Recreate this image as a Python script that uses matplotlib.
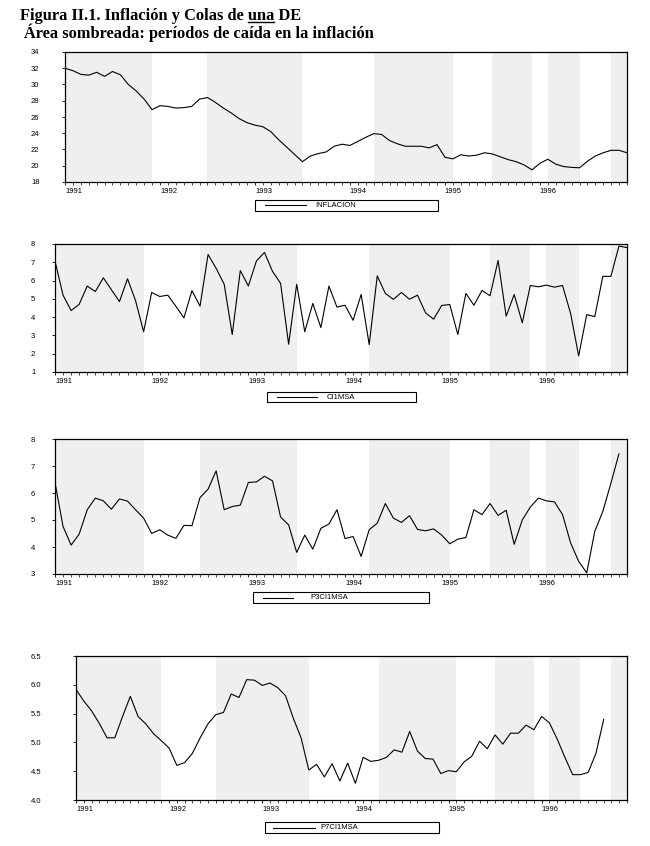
import matplotlib
matplotlib.use("Agg")
import numpy as np
from matplotlib import pyplot as plt
from matplotlib.patches import Rectangle
from matplotlib.lines import Line2D

W, H = 650, 846

# monthly data, 1991:01 .. 1996:12 (index 0 = Jan 1991)
years = [1991, 1992, 1993, 1994, 1995, 1996]

inflacion = [32.0, 31.7, 31.25, 31.15, 31.5, 31.0, 31.6, 31.2, 30.0, 29.2, 28.2, 26.9,
             27.4, 27.3, 27.1, 27.15, 27.3, 28.2, 28.4, 27.8, 27.1, 26.5, 25.8, 25.3,
             25.0, 24.8, 24.2, 23.2, 22.3, 21.4, 20.5, 21.2, 21.5, 21.7, 22.4, 22.65,
             22.5, 23.0, 23.5, 23.95, 23.85, 23.1, 22.7, 22.4, 22.4, 22.4, 22.2, 22.6,
             21.05, 20.85, 21.35, 21.2, 21.3, 21.6, 21.45, 21.1, 20.75, 20.5, 20.1, 19.5,
             20.3, 20.8, 20.2, 19.9, 19.8, 19.75, 20.55, 21.2, 21.6, 21.9, 21.9, 21.6]

ci1msa = [7.07, 5.2, 4.36, 4.7, 5.7, 5.4, 6.15, 5.5, 4.85, 6.1, 4.9, 3.2,
          5.35, 5.13, 5.2, 4.6, 3.96, 5.45, 4.6, 7.43, 6.67, 5.8, 3.05, 6.55,
          5.7, 7.07, 7.54, 6.5, 5.85, 2.52, 5.8, 3.2, 4.75, 3.43, 5.7, 4.55,
          4.65, 3.83, 5.24, 2.5, 6.26, 5.3, 4.97, 5.35, 4.98, 5.2, 4.23, 3.89,
          4.64, 4.69, 3.05, 5.3, 4.65, 5.46, 5.17, 7.1, 4.05, 5.24, 3.69, 5.73,
          5.66, 5.75, 5.64, 5.73, 4.2, 1.88, 4.14, 4.03, 6.23, 6.23, 7.89, 7.8]

p3ci1msa = [6.39, 4.76, 4.07, 4.48, 5.38, 5.81, 5.71, 5.4, 5.78, 5.7, 5.38, 5.07,
            4.5, 4.64, 4.44, 4.32, 4.8, 4.79, 5.83, 6.14, 6.82, 5.38, 5.5, 5.55,
            6.39, 6.41, 6.62, 6.45, 5.11, 4.82, 3.8, 4.44, 3.92, 4.69, 4.85, 5.38,
            4.31, 4.39, 3.65, 4.64, 4.88, 5.61, 5.07, 4.91, 5.16, 4.65, 4.6, 4.67,
            4.44, 4.12, 4.29, 4.35, 5.38, 5.2, 5.61, 5.17, 5.36, 4.1, 5.0, 5.48,
            5.81, 5.71, 5.67, 5.2, 4.15, 3.47, 3.04, 4.58, 5.32, 6.36, 7.45]

p7ci1msa = [5.92, 5.72, 5.55, 5.33, 5.08, 5.08, 5.45, 5.8, 5.45, 5.32, 5.15, 5.03,
            4.9, 4.6, 4.65, 4.81, 5.08, 5.32, 5.48, 5.52, 5.84, 5.78, 6.09, 6.08,
            5.99, 6.03, 5.95, 5.81, 5.42, 5.08, 4.52, 4.62, 4.4, 4.63, 4.33, 4.64,
            4.29, 4.74, 4.67, 4.69, 4.74, 4.87, 4.83, 5.19, 4.85, 4.72, 4.71, 4.46,
            4.51, 4.49, 4.66, 4.76, 5.02, 4.89, 5.13, 4.97, 5.16, 5.16, 5.3, 5.22,
            5.45, 5.34, 5.06, 4.74, 4.44, 4.44, 4.48, 4.81, 5.4]

# periods of falling inflation (start, end) as (year, month)
shade_periods = [((1991, 1), (1991, 12)), ((1992, 7), (1993, 7)), ((1994, 4), (1995, 2)),
                 ((1995, 7), (1995, 12)), ((1996, 2), (1996, 6)), ((1996, 10), (1996, 12))]


def midx(ym):
    return (ym[0] - 1991) * 12 + ym[1] - 1


fig = plt.figure(figsize=(W / 100, H / 100), dpi=100)
SANS = "Liberation Sans"
SERIF = "Liberation Serif"

# (values, name, axes rect px (l, t, r, b), ylim, yticks, fmt, legend box (l, t, r, b), line x0, x1, text x)
panels = [
    (inflacion, "INFLACION", (65, 52, 627, 182), (18, 34), np.arange(18, 35, 2), "{:.0f}",
     (255, 200, 438, 211), 265, 306, 315),
    (ci1msa, "CI1MSA", (55, 244, 627, 372), (1, 8), np.arange(1, 9, 1), "{:.0f}",
     (267, 392, 416, 402), 277, 317, 327),
    (p3ci1msa, "P3CI1MSA", (55, 439, 627, 574), (3, 8), np.arange(3, 9, 1), "{:.0f}",
     (253, 592, 429, 603), 263, 293, 310),
    (p7ci1msa, "P7CI1MSA", (76, 656, 627, 800), (4.0, 6.5), np.arange(4.0, 6.51, 0.5), "{:.1f}",
     (265, 822, 439, 833), 273, 315, 320),
]

label_left = 31

for vals, name, (l, t, r, b), ylim, yt, fmt, lbox, lx0, lx1, tx in panels:
    ax = fig.add_axes([l / W, 1 - b / H, (r - l) / W, (b - t) / H])
    ax.set_xlim(0, 71)
    ax.set_ylim(*ylim)
    for s, e in shade_periods:
        ax.axvspan(midx(s), midx(e), color="#efefef", lw=0, zorder=0)
    ax.plot(np.arange(len(vals)), vals, color="black", lw=0.8, zorder=2)

    ax.set_yticks(yt)
    ax.set_yticklabels([fmt.format(v) for v in yt], family=SANS, fontsize=5.5, ha="left")
    ylen = 2.0
    ypad = (l - label_left) * 0.72 - ylen
    ax.tick_params(axis="y", direction="out", length=ylen, width=0.6, pad=ypad)

    ax.set_xticks([(y - 1991) * 12 for y in years])
    ax.set_xticklabels([str(y) for y in years], family=SANS, fontsize=5.5, ha="left")
    ax.set_xticks([m for m in range(72) if m % 12], minor=True)
    ax.tick_params(axis="x", which="major", direction="out", length=2.5, width=0.6, pad=1.5)
    ax.tick_params(axis="x", which="minor", direction="out", length=1.8, width=0.5)
    for sp in ax.spines.values():
        sp.set_linewidth(0.9)

    # legend box under each panel
    bl, bt, br, bb = lbox
    fig.add_artist(Rectangle((bl / W, 1 - bb / H), (br - bl) / W, (bb - bt) / H,
                             transform=fig.transFigure, fill=False, ec="black", lw=0.8))
    yc = 1 - (bt + bb) / 2 / H
    fig.add_artist(Line2D([lx0 / W, lx1 / W], [yc, yc], color="black", lw=0.8,
                          transform=fig.transFigure))
    fig.text(tx / W, yc, name, family=SANS, fontsize=5.5, va="center", ha="left")

# title, with "una" underlined
tprops = dict(family=SERIF, fontweight="bold", fontsize=11.8, va="baseline", ha="left")
title = "Figura II.1. Inflación y Colas de una DE"
x0, yb = 20 / W, 1 - 20 / H
fig.text(x0, yb, title, **tprops)
renderer = fig.canvas.get_renderer()
m1 = fig.text(x0, yb, "Figura II.1. Inflación y Colas de una", alpha=0, **tprops)
m2 = fig.text(x0, yb, "una", alpha=0, **tprops)
e1 = m1.get_window_extent(renderer)
e2 = m2.get_window_extent(renderer)
u_x1 = e1.x1
u_x0 = e1.x1 - e2.width
uy = 1 - 22 / H
fig.add_artist(Line2D([u_x0 / W, u_x1 / W], [uy, uy], color="black", lw=1.0,
                      transform=fig.transFigure))
fig.text(24 / W, 1 - 38 / H, "Área sombreada: períodos de caída en la inflación", **tprops)

fig.savefig("out.png", dpi=100)
